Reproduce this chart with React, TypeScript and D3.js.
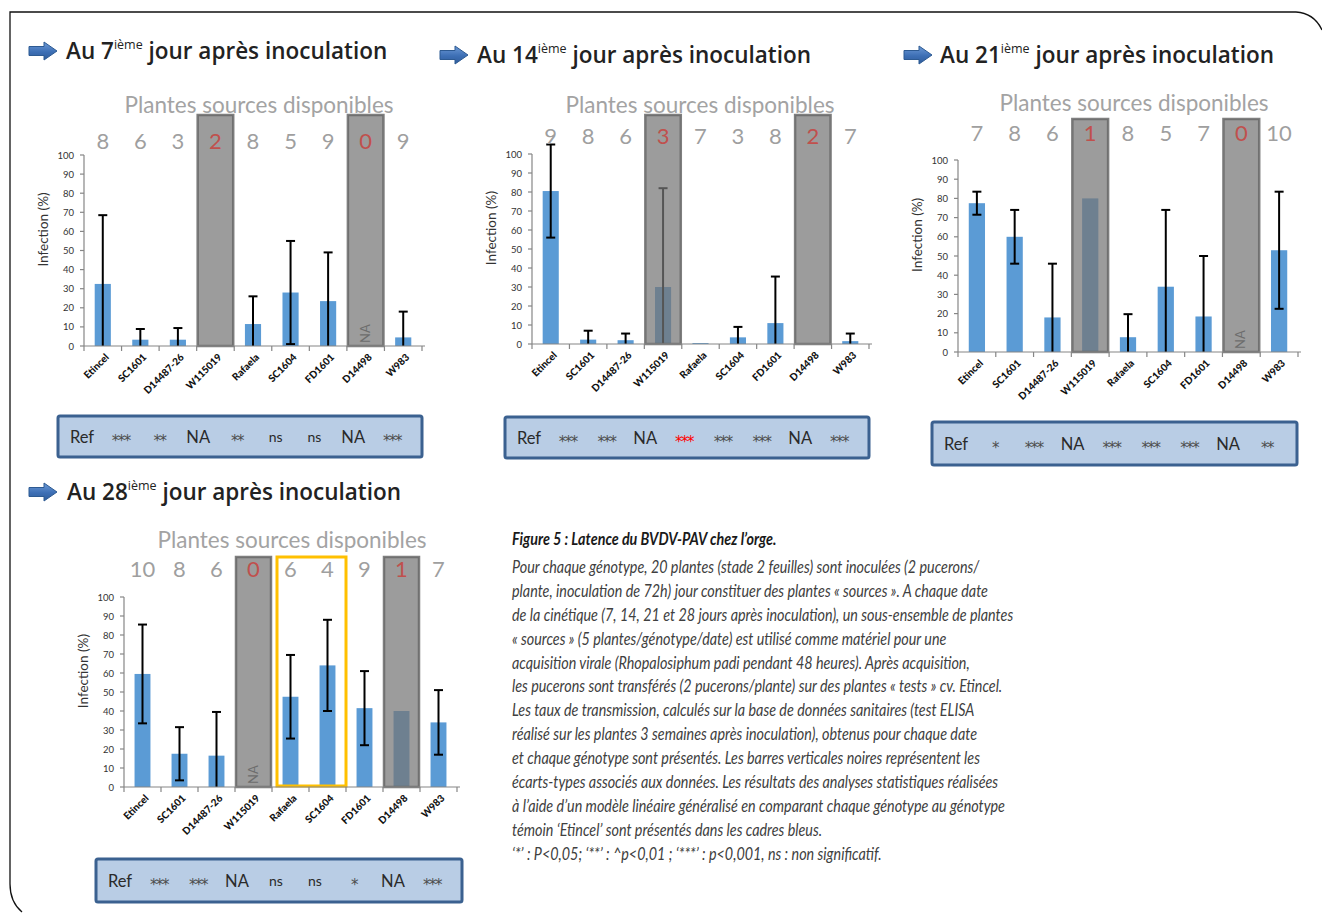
import React from "react";
import * as d3 from "d3";

// Genotypes on the x axis of every panel
const genotypes = ["Etincel", "SC1601", "D14487-26", "W115019", "Rafaela", "SC1604", "FD1601", "D14498", "W983"];

// Days after inoculation
const days = ["7", "14", "21", "28"];

// Number of available source plants per genotype
const sources7 = [8, 6, 3, 2, 8, 5, 9, 0, 9];
const sources14 = [9, 8, 6, 3, 7, 3, 8, 2, 7];
const sources21 = [7, 8, 6, 1, 8, 5, 7, 0, 10];
const sources28 = [10, 8, 6, 0, 6, 4, 9, 1, 7];

// Infection rate (%) and standard deviation per genotype
const infection7 = [32.5, 3.3, 3.3, null, 11.5, 28, 23.5, null, 4.5];
const sd7 = [36, 5.6, 6.1, null, 14.5, 27, 25.5, null, 13.5];
const infection14 = [80.5, 2.3, 2, 30, 0.5, 3.5, 11, null, 1.5];
const sd14 = [24.5, 4.7, 3.5, 52, 0, 5.5, 24.5, null, 4];
const infection21 = [77.5, 60, 18, 80, 7.7, 34, 18.5, null, 53];
const sd21 = [6, 14, 28, 0, 12, 40, 31.5, null, 30.5];
const infection28 = [59.5, 17.5, 16.5, null, 47.5, 64, 41.5, 40, 34];
const sd28 = [26, 14, 23, null, 22, 24, 19.5, 0, 17];

// Genotypes with too few source plants (shaded)
const shadedGenotypes = ["W115019", "D14498"];
// Genotype showing an "NA" tag inside its shaded column, per day
const naTag = ["D14498", null, "D14498", "W115019"];

// Significance versus the control "Etincel"
const stats7 = ["Ref", "***", "**", "NA", "**", "ns", "ns", "NA", "***"];
const stats14 = ["Ref", "***", "***", "NA", "***", "***", "***", "NA", "***"];
const stats21 = ["Ref", "*", "***", "NA", "***", "***", "***", "NA", "**"];
const stats28 = ["Ref", "***", "***", "NA", "ns", "ns", "*", "NA", "***"];
const statsRed14 = ["Rafaela"];

// Highlighted genotypes on day 28
const highlighted28 = ["Rafaela", "SC1604"];

const yTicks = d3.range(0, 101, 10);

const captionTitle = "Figure 5 : Latence du BVDV-PAV chez l\u2019orge.";
const captionLines = [
  "Pour chaque génotype, 20 plantes (stade 2 feuilles) sont inoculées (2 pucerons/",
  "plante, inoculation de 72h) jour constituer des plantes « sources ». A chaque date",
  "de la cinétique (7, 14, 21 et 28 jours après inoculation), un sous-ensemble de plantes",
  "« sources » (5 plantes/génotype/date) est utilisé comme matériel pour une",
  "acquisition virale (Rhopalosiphum padi pendant 48 heures). Après acquisition,",
  "les pucerons sont transférés (2 pucerons/plante) sur des plantes « tests » cv. Etincel.",
  "Les taux de transmission, calculés sur la base de données sanitaires (test ELISA",
  "réalisé sur les plantes 3 semaines après inoculation), obtenus pour chaque date",
  "et chaque génotype sont présentés. Les barres verticales noires représentent les",
  "écarts-types associés aux données. Les résultats des analyses statistiques réalisées",
  "à l\u2019aide d\u2019un modèle linéaire généralisé en comparant chaque génotype au génotype",
  "témoin \u2018Etincel\u2019 sont présentés dans les cadres bleus.",
  "\u2018*\u2019 : P<0,05; \u2018**\u2019 : ^p<0,01 ; \u2018***\u2019 : p<0,001, ns : non significatif.",
];

const BLUE = "#5b9bd5";
const FONT = "Lato, 'Open Sans', sans-serif";
const TITLE_FONT = "'Open Sans', Lato, sans-serif";

type Layout = {
  ax: number; tx: number; ty: number;
  x0: number; x1: number; y0: number; y100: number;
  boxTop: number; countY: number; headX: number; headY: number;
  sx: number; sy: number; sw: number; sh: number;
};

const layouts: Layout[] = [
  { ax: 29, tx: 66, ty: 51, x0: 84, x1: 422, y0: 346, y100: 155, boxTop: 115, countY: 140, headX: 259, headY: 104, sx: 58, sy: 416, sw: 364, sh: 41 },
  { ax: 440, tx: 477, ty: 55, x0: 532, x1: 869, y0: 344, y100: 154, boxTop: 115, countY: 135, headX: 700, headY: 104, sx: 505, sy: 417, sw: 364, sh: 41 },
  { ax: 904, tx: 940, ty: 55, x0: 958, x1: 1298, y0: 352, y100: 160, boxTop: 119, countY: 132, headX: 1134, headY: 102, sx: 932, sy: 422, sw: 365, sh: 43 },
  { ax: 29, tx: 67, ty: 492, x0: 124, x1: 457, y0: 787, y100: 597, boxTop: 557, countY: 568, headX: 292, headY: 539, sx: 96, sy: 859, sw: 366, sh: 43 },
];

const panelData = [
  { sources: sources7, values: infection7, sds: sd7, stats: stats7, red: [] as string[], boxed: [] as string[] },
  { sources: sources14, values: infection14, sds: sd14, stats: stats14, red: statsRed14, boxed: [] as string[] },
  { sources: sources21, values: infection21, sds: sd21, stats: stats21, red: [] as string[], boxed: [] as string[] },
  { sources: sources28, values: infection28, sds: sd28, stats: stats28, red: [] as string[], boxed: highlighted28 },
];

function Arrow({ x, y }: { x: number; y: number }) {
  const p = d3.path();
  p.moveTo(x, y - 4.5);
  p.lineTo(x + 15, y - 4.5);
  p.lineTo(x + 15, y - 9);
  p.lineTo(x + 28, y);
  p.lineTo(x + 15, y + 9);
  p.lineTo(x + 15, y + 4.5);
  p.lineTo(x, y + 4.5);
  p.closePath();
  return <path d={p.toString()} fill="url(#arrowGrad)" stroke="#2d5a92" strokeWidth={1} />;
}

function Panel({ idx }: { idx: number }) {
  const L = layouts[idx];
  const D = panelData[idx];
  const day = days[idx];
  const x = d3.scaleBand<string>().domain(genotypes).range([L.x0, L.x1]).paddingInner(0).paddingOuter(0);
  const y = d3.scaleLinear().domain([0, 100]).range([L.y0, L.y100]);
  const bw = x.bandwidth();
  const barW = bw * 0.43;
  const sPos = d3.scalePoint<string>().domain(genotypes).range([L.sx + 24, L.sx + L.sw - 30]);

  const boxedStart = D.boxed.length ? (x(D.boxed[0]) as number) + 5 : 0;
  const boxedEnd = D.boxed.length ? (x(D.boxed[D.boxed.length - 1]) as number) + bw : 0;

  return (
    <g>
      {/* Panel title */}
      <Arrow x={L.ax} y={L.ty} />
      <text x={L.tx} y={L.ty + 8} fontFamily={TITLE_FONT} fontWeight={600} fontSize={22.5} fill="#222">
        <tspan>{`Au ${day}`}</tspan>
        <tspan dy={-10} fontSize={12.5} fontWeight={400}>ième</tspan>
        <tspan dy={10}>{" jour après inoculation"}</tspan>
      </text>

      {/* Source plants header */}
      <text x={L.headX} y={L.headY} textAnchor="middle" dominantBaseline="central" fontFamily={FONT} fontSize={22.5} fill="#a3a3a3">
        Plantes sources disponibles
      </text>

      {/* Bars */}
      {genotypes.map((g, i) => {
        const v = D.values[i];
        if (v == null) return null;
        const cx = (x(g) as number) + bw / 2;
        return <rect key={"b" + g} x={cx - barW / 2} y={y(v)} width={barW} height={L.y0 - y(v)} fill={BLUE} />;
      })}

      {/* Error bars */}
      {genotypes.map((g, i) => {
        const v = D.values[i];
        const s = D.sds[i];
        if (v == null || s == null || s === 0) return null;
        const cx = (x(g) as number) + bw / 2;
        const hi = v + s;
        const lo = v - s;
        const yl = lo > 0 ? y(lo) : L.y0;
        return (
          <g key={"e" + g} stroke="#000" strokeWidth={2}>
            <line x1={cx} x2={cx} y1={y(hi)} y2={yl} />
            <line x1={cx - 4.5} x2={cx + 4.5} y1={y(hi)} y2={y(hi)} />
            {lo > 0 && <line x1={cx - 4.5} x2={cx + 4.5} y1={yl} y2={yl} />}
          </g>
        );
      })}

      {/* Shaded columns for genotypes with too few source plants */}
      {shadedGenotypes.map((g) => (
        <rect key={"s" + g} x={(x(g) as number) + 1} y={L.boxTop} width={bw - 2} height={L.y0 - L.boxTop}
          fill="rgba(118,118,118,0.72)" stroke="rgba(105,105,105,0.85)" strokeWidth={2.5} />
      ))}
      {naTag[idx] && (
        <text transform={`translate(${(x(naTag[idx] as string) as number) + bw / 2 + 4},${y(6.5)}) rotate(-90)`}
          textAnchor="middle" fontFamily={FONT} fontSize={13} fill="#6d6d6d">NA</text>
      )}

      {/* Highlight frame */}
      {D.boxed.length > 0 && (
        <rect x={boxedStart} y={L.boxTop} width={boxedEnd - boxedStart} height={L.y0 - L.boxTop - 1}
          fill="none" stroke="#ffc000" strokeWidth={3} />
      )}

      {/* Source plant counts */}
      {genotypes.map((g, i) => (
        <text key={"c" + g} x={(x(g) as number) + bw / 2} y={L.countY} textAnchor="middle" dominantBaseline="central"
          fontFamily={FONT} fontSize={22} fill={shadedGenotypes.includes(g) ? "#c0504d" : "#9f9f9f"}>
          {D.sources[i]}
        </text>
      ))}

      {/* Y axis */}
      <line x1={L.x0} x2={L.x0} y1={L.y0} y2={L.y100} stroke="#868686" strokeWidth={1.2} />
      {yTicks.map((t) => (
        <g key={"t" + t}>
          <line x1={L.x0 - 4} x2={L.x0} y1={y(t)} y2={y(t)} stroke="#868686" strokeWidth={1.2} />
          <text x={L.x0 - 10} y={y(t)} textAnchor="end" dominantBaseline="central" fontFamily={FONT} fontSize={9.5} fill="#333">
            {t}
          </text>
        </g>
      ))}
      <text transform={`translate(${L.x0 - 41},${y(61)}) rotate(-90)`} textAnchor="middle" dominantBaseline="central"
        fontFamily={FONT} fontSize={13.5} fill="#333">Infection (%)</text>

      {/* X axis */}
      <line x1={L.x0} x2={L.x1 + 3} y1={L.y0} y2={L.y0} stroke="#868686" strokeWidth={1.2} />
      {genotypes.concat([""]).map((g, i) => {
        const tx = i < genotypes.length ? (x(g) as number) : L.x1;
        return <line key={"xt" + i} x1={tx} x2={tx} y1={L.y0} y2={L.y0 + 5} stroke="#868686" strokeWidth={1.2} />;
      })}
      {genotypes.map((g) => {
        const cx = (x(g) as number) + bw / 2 + 4;
        return (
          <text key={"xl" + g} transform={`translate(${cx},${L.y0 + 9}) rotate(-45)`} textAnchor="end" dominantBaseline="central"
            fontFamily={FONT} fontWeight={900} fontSize={10} fill="#111">{g}</text>
        );
      })}

      {/* Statistics strip */}
      <rect x={L.sx} y={L.sy} width={L.sw} height={L.sh} rx={2} fill="#b9cde5" stroke="#3b6190" strokeWidth={3} />
      {genotypes.map((g, i) => {
        const s = D.stats[i];
        const isStar = s.startsWith("*");
        const cy = L.sy + L.sh / 2;
        return (
          <text key={"st" + g} x={sPos(g) as number} y={isStar ? cy + 4 : cy} textAnchor="middle" dominantBaseline="central"
            fontFamily={isStar ? "'DejaVu Sans', sans-serif" : FONT} fontSize={isStar ? 15 : s === "ns" ? 14 : 16.5}
            letterSpacing={isStar ? -1.5 : 0}
            fill={D.red.includes(g) ? "#ff0000" : isStar ? "#4d4d4d" : "#2a2a2a"}>
            {s}
          </text>
        );
      })}
    </g>
  );
}

export default function App() {
  return (
    <svg width={1322} height={917} style={{ position: "absolute", left: 0, top: 0, background: "#fff" }}>
      <defs>
        <linearGradient id="arrowGrad" x1="0" y1="0" x2="0" y2="1">
          <stop offset="0%" stopColor="#6d9ad6" />
          <stop offset="55%" stopColor="#3d6fb5" />
          <stop offset="100%" stopColor="#2f5c9a" />
        </linearGradient>
      </defs>
      <rect width={1322} height={917} fill="#fff" />

      {/* Page frame */}
      <path d="M1296,12 L10,12 L10,884 Q10,902 22,912" fill="none" stroke="#111" strokeWidth={1.3} />
      <path d="M1296,12 Q1314,13 1322,30" fill="none" stroke="#111" strokeWidth={1.3} />

      {days.map((d, i) => <Panel key={d} idx={i} />)}

      {/* Caption */}
      <g transform="translate(512,0) scale(0.87,1)">
        <text x={0} y={545} fontFamily={FONT} fontStyle="italic" fontWeight={700} fontSize={16.5} fill="#1a1a1a">
          {captionTitle}
        </text>
        {captionLines.map((line, i) => (
          <text key={i} x={0} y={573 + i * 23.9} fontFamily={FONT} fontStyle="italic" fontWeight={400} fontSize={16.5} fill="#404040">
            {line}
          </text>
        ))}
      </g>
    </svg>
  );
}
